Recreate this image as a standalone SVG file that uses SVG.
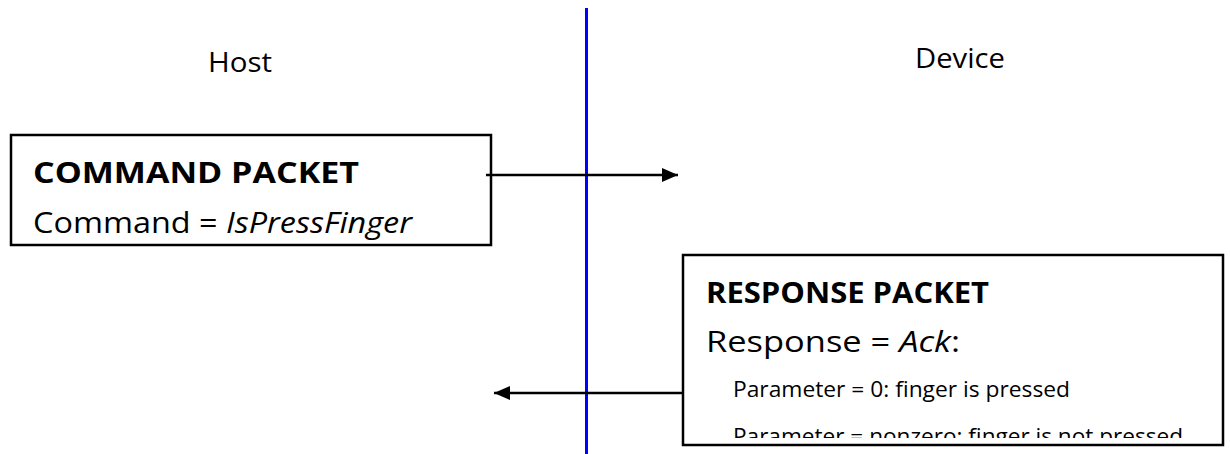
<svg xmlns="http://www.w3.org/2000/svg" width="1230" height="454" viewBox="0 0 1230 454">
<style>
text{font-family:"Open Sans","Noto Sans","DejaVu Sans",sans-serif;fill:#000}
.lbl{font-size:27px}
.hd{font-size:29px;font-weight:bold}
.ln{font-size:30px}
.sm{font-size:21px}
.box{fill:#fff;stroke:#000;stroke-width:2.5}
.conn{stroke:#000;stroke-width:2.5;fill:none}
</style>
<defs>
<marker id="ah" markerWidth="16" markerHeight="14" refX="16" refY="7" orient="auto" markerUnits="userSpaceOnUse">
<path d="M0,0 L16,7 L0,14 Z" fill="#000"/>
</marker>
<clipPath id="cc"><rect x="12" y="136" width="478" height="104"/></clipPath>
<clipPath id="rc"><rect x="684" y="256" width="538" height="182"/></clipPath>
</defs>
<rect width="1230" height="454" fill="#fff"/>
<g id="host"><text class="lbl" x="240" y="72" text-anchor="middle" textLength="64" lengthAdjust="spacingAndGlyphs">Host</text></g>
<g id="device"><text class="lbl" x="960" y="68" text-anchor="middle" textLength="90" lengthAdjust="spacingAndGlyphs">Device</text></g>
<g id="lifeline"><line x1="586.5" y1="8" x2="586.5" y2="454" stroke="#0000ff" stroke-width="3"/></g>
<g id="command">
<rect class="box" x="11" y="135" width="480" height="110"/>
<g clip-path="url(#cc)">
<text class="hd" x="33" y="183" textLength="326" lengthAdjust="spacingAndGlyphs">COMMAND PACKET</text>
<text class="ln" x="33" y="233" textLength="379" lengthAdjust="spacingAndGlyphs">Command = <tspan font-style="italic">IsPressFinger</tspan></text>
</g>
</g>
<g id="response">
<rect class="box" x="683" y="255" width="540" height="190"/>
<g clip-path="url(#rc)">
<text class="hd" x="706" y="303" textLength="283" lengthAdjust="spacingAndGlyphs">RESPONSE PACKET</text>
<text class="ln" x="706" y="352" textLength="254" lengthAdjust="spacingAndGlyphs">Response = <tspan font-style="italic">Ack</tspan>:</text>
<text class="sm" x="733" y="397" textLength="337" lengthAdjust="spacingAndGlyphs">Parameter = 0: finger is pressed</text>
<text class="sm" x="733" y="444" textLength="450" lengthAdjust="spacingAndGlyphs">Parameter = nonzero: finger is not pressed</text>
</g>
</g>
<g id="connectors">
<line class="conn" x1="486" y1="175" x2="678" y2="175" marker-end="url(#ah)"/>
<line class="conn" x1="683" y1="393" x2="494" y2="393" marker-end="url(#ah)"/>
</g>
</svg>
